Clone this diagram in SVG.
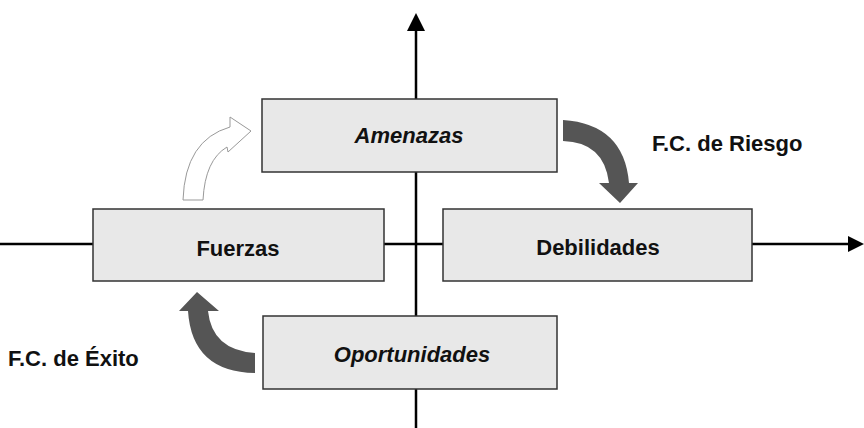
<svg xmlns="http://www.w3.org/2000/svg" width="864" height="428" viewBox="0 0 864 428">
<style>
.box{fill:#e8e8e8;stroke:#333;stroke-width:1.5}
.t{font-family:"Liberation Sans",Arial,sans-serif;font-weight:bold;font-size:22px;fill:#111;text-anchor:middle}
.i{font-style:italic}
.lbl{font-family:"Liberation Sans",Arial,sans-serif;font-weight:bold;font-size:22px;fill:#111}
.axis{stroke:#000;stroke-width:2.5;fill:none}
.dark{fill:#555}
</style>
<rect width="864" height="428" fill="#fff"/>
<g id="connectors">
<line class="axis" x1="416" y1="428" x2="416" y2="28"/>
<polygon points="416,13 407,31 425,31" fill="#000"/>
<line class="axis" x1="0" y1="244" x2="850" y2="244"/>
<polygon points="864,244 848,236 848,252" fill="#000"/>
<path class="dark" d="M563,120 Q624,124 629,183 L638,183 L620,203 L599,183 L609,183 Q604,142 563,141 Z"/>
<path class="dark" d="M255,353 Q212,350 208,311 L219,311 L197,292 L179,311 L188,311 Q192,372 255,373 Z"/>
<path d="M183,200 Q185,140 230,127 L230,117 L251,131 L228,152 L227,147 Q205,160 203,200 Z" fill="#fff" stroke="#999" stroke-width="1"/>
</g>
<g id="amenazas"><rect class="box" x="262" y="99" width="295" height="73"/><text class="t i" x="409" y="143">Amenazas</text></g>
<g id="fuerzas"><rect class="box" x="93" y="209" width="291" height="72"/><text class="t" x="238" y="256">Fuerzas</text></g>
<g id="debilidades"><rect class="box" x="443" y="209" width="309" height="72"/><text class="t" x="598" y="255">Debilidades</text></g>
<g id="oportunidades"><rect class="box" x="263" y="316" width="294" height="73"/><text class="t i" x="412" y="362">Oportunidades</text></g>
<g id="labels">
<text class="lbl" x="652" y="151">F.C. de Riesgo</text>
<text class="lbl" x="8" y="366">F.C. de Éxito</text>
</g>
</svg>
